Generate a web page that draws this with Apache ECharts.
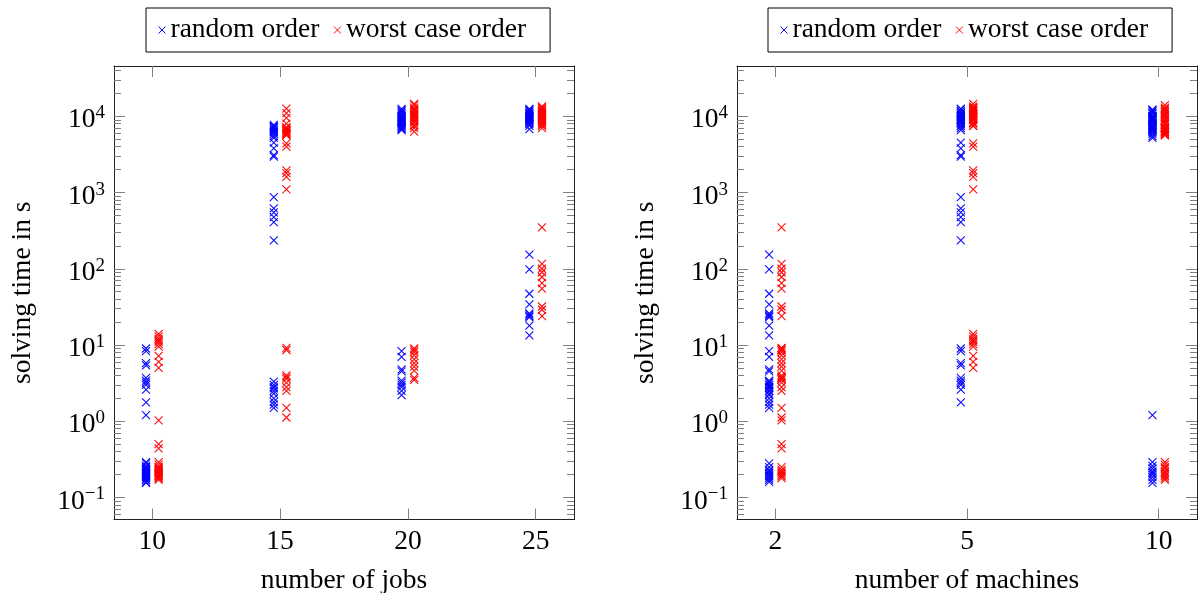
<!DOCTYPE html>
<html><head><meta charset="utf-8">
<script src="https://cdn.jsdelivr.net/npm/echarts@6.0.0/dist/echarts.min.js"></script>
<style>html,body{margin:0;padding:0;background:#fff}#c{width:1200px;height:593px}</style>
</head><body><div id="c"></div>
<script>
// ---------- categories and ticks ----------
const jobCategories = [10, 15, 20, 25];
const machineCategories = [2, 5, 10];
const machineTickLabels = ['2', '5', '10'];
const yMajorTicks = [0.1, 1, 10, 100, 1000, 10000];
const yMinorTicks = [0.06, 0.07, 0.08, 0.09,
  0.2, 0.3, 0.4, 0.5, 0.6, 0.7, 0.8, 0.9,
  2, 3, 4, 5, 6, 7, 8, 9,
  20, 30, 40, 50, 60, 70, 80, 90,
  200, 300, 400, 500, 600, 700, 800, 900,
  2000, 3000, 4000, 5000, 6000, 7000, 8000, 9000,
  20000, 30000, 40000];
const seriesNames = ['random order', 'worst case order'];

// ---------- solving times (s): random order, per (jobs, machines) ----------
const random_j10_m2  = [0.28, 0.25, 0.23, 0.22, 0.21, 0.2, 0.19, 0.18, 0.17, 0.16];
const random_j10_m5  = [9.0, 8.3, 5.8, 5.4, 3.7, 3.4, 3.2, 3.0, 2.6, 1.77];
const random_j10_m10 = [1.2, 0.29, 0.26, 0.24, 0.22, 0.21, 0.2, 0.185, 0.17, 0.155];
const random_j15_m2  = [3.3, 3.0, 2.8, 2.7, 2.5, 2.3, 2.0, 1.8, 1.65, 1.5];
const random_j15_m5  = [4500, 3800, 3100, 2950, 870, 620, 550, 475, 410, 235];
const random_j15_m10 = [7700, 7400, 7200, 7000, 6700, 6500, 6200, 5900, 5500, 5200];
const random_j20_m2  = [8.3, 7.0, 4.8, 4.5, 3.4, 3.2, 3.0, 2.8, 2.5, 2.2];
const random_j20_m5  = [12500, 11500, 10500, 9800, 9000, 8500, 8000, 7500, 7000, 6600];
const random_j20_m10 = [12000, 11000, 10000, 9500, 9200, 8700, 8200, 7700, 7200, 6800];
const random_j25_m2  = [153, 98, 47, 34, 26, 25, 24, 23, 18, 13.4];
const random_j25_m5  = [12500, 11800, 11000, 10500, 10000, 9600, 9200, 8800, 8200, 7500];
const random_j25_m10 = [12200, 11500, 10800, 10200, 9800, 9400, 9000, 8500, 7900, 6800];

// ---------- solving times (s): worst case order ----------
const worst_j10_m2  = [1.03, 0.5, 0.44, 0.25, 0.23, 0.22, 0.21, 0.2, 0.19, 0.18];
const worst_j10_m5  = [14, 13, 12, 11.5, 11, 10.3, 9.5, 7.2, 6, 5];
const worst_j10_m10 = [0.29, 0.27, 0.25, 0.24, 0.22, 0.21, 0.2, 0.19, 0.18, 0.17];
const worst_j15_m2  = [9.2, 8.6, 4.0, 3.8, 3.6, 3.2, 2.8, 2.5, 1.5, 1.12];
const worst_j15_m5  = [12600, 11000, 9500, 8000, 4400, 4000, 1950, 1800, 1600, 1100];
const worst_j15_m10 = [7200, 7000, 6800, 6600, 6400, 6200, 6000, 5900, 5700, 5600];
const worst_j20_m2  = [9.0, 8.5, 8.0, 7.3, 6.5, 5.8, 5.2, 4.6, 3.7, 3.5];
const worst_j20_m5  = [14500, 13000, 12000, 11000, 10500, 10000, 9500, 9000, 8300, 7500];
const worst_j20_m10 = [14000, 12500, 11500, 10500, 9800, 9000, 8400, 7700, 7000, 6300];
const worst_j25_m2  = [350, 116, 100, 90, 78, 65, 55, 32, 29, 24];
const worst_j25_m5  = [13500, 12800, 12000, 11300, 10700, 10000, 9500, 9000, 8200, 7500];
const worst_j25_m10 = [13000, 12200, 11500, 10800, 10200, 9600, 9000, 8400, 7800, 7000];

const randomCells = {
  10: {2: random_j10_m2, 5: random_j10_m5, 10: random_j10_m10},
  15: {2: random_j15_m2, 5: random_j15_m5, 10: random_j15_m10},
  20: {2: random_j20_m2, 5: random_j20_m5, 10: random_j20_m10},
  25: {2: random_j25_m2, 5: random_j25_m5, 10: random_j25_m10}
};
const worstCells = {
  10: {2: worst_j10_m2, 5: worst_j10_m5, 10: worst_j10_m10},
  15: {2: worst_j15_m2, 5: worst_j15_m5, 10: worst_j15_m10},
  20: {2: worst_j20_m2, 5: worst_j20_m5, 10: worst_j20_m10},
  25: {2: worst_j25_m2, 5: worst_j25_m5, 10: worst_j25_m10}
};

function byJobs(cells) {
  const out = [];
  jobCategories.forEach(j => machineCategories.forEach(m => cells[j][m].forEach(v => out.push([j, v]))));
  return out;
}
function byMachines(cells) {
  const out = [];
  machineCategories.forEach((m, mi) => jobCategories.forEach(j => cells[j][m].forEach(v => out.push([mi, v]))));
  return out;
}

// ---------- styling ----------
const FONT = 'Liberation Serif';
const FS = 27.5;
const BLUE = '#0000ff', RED = '#ff0000';
const FRAME = '#222';
const TICK = '#808080';
const Y_MIN = 0.05144, Y_MAX = 45650;
const CROSS = 'path://M0,0L10,10M10,0L0,10';
const grids = [
  {left: 114, top: 66, width: 460, height: 453.5, outerBoundsMode: 'none', containLabel: false},
  {left: 737, top: 66, width: 460, height: 453.5, outerBoundsMode: 'none', containLabel: false}
];

function xAxesFor(gi, min, max, ticks, fmt, name) {
  const base = {
    gridIndex: gi, type: 'value', min: min, max: max,
    axisLine: {show: true, onZero: false, lineStyle: {color: FRAME, width: 1}},
    splitLine: {show: false}
  };
  return [
    Object.assign({}, base, {
      position: 'bottom',
      name: name, nameLocation: 'middle', nameGap: 47,
      nameTextStyle: {fontFamily: FONT, fontSize: FS, color: '#000'},
      axisTick: {show: true, inside: true, length: 11, lineStyle: {color: TICK, width: 1}, customValues: ticks},
      axisLabel: {show: true, margin: 8, fontFamily: FONT, fontSize: FS, color: '#000', customValues: ticks, formatter: fmt}
    }),
    Object.assign({}, base, {
      position: 'top',
      axisTick: {show: true, inside: true, length: 11, lineStyle: {color: TICK, width: 1}, customValues: ticks},
      axisLabel: {show: false}
    })
  ];
}
function supText(v) {
  const e = Math.round(Math.log10(v));
  return '{b|10}{s|' + (e < 0 ? '\u2212' + (-e) : e) + '}';
}
function yAxesFor(gi, name) {
  const base = {gridIndex: gi, type: 'log', logBase: 10, min: Y_MIN, max: Y_MAX, splitLine: {show: false}};
  const major = (pos, withLabel) => Object.assign({}, base, {
    position: pos,
    axisLine: {show: true, onZero: false, lineStyle: {color: FRAME, width: 1}},
    axisTick: {show: true, inside: true, length: 11, lineStyle: {color: TICK, width: 1}, customValues: yMajorTicks},
    axisLabel: withLabel ? {
      show: true, margin: 9, customValues: yMajorTicks, formatter: supText, color: '#000',
      rich: {
        b: {fontFamily: FONT, fontSize: FS, color: '#000', padding: [8, 0, 0, 0]},
        s: {fontFamily: FONT, fontSize: 19, color: '#000', padding: [0, 0, 6, 0]}
      }
    } : {show: false},
    name: withLabel ? name : '',
    nameLocation: 'middle', nameGap: 77, nameRotate: 90,
    nameTextStyle: {fontFamily: FONT, fontSize: FS, color: '#000'}
  });
  const minor = (pos) => Object.assign({}, base, {
    position: pos,
    axisLine: {show: false, onZero: false},
    axisTick: {show: true, inside: true, length: 7, lineStyle: {color: TICK, width: 1}, customValues: yMinorTicks},
    axisLabel: {show: false}
  });
  return [major('left', true), minor('left'), major('right', false), minor('right')];
}

const xAxis = [].concat(
  xAxesFor(0, 8.5, 26.5, jobCategories, v => String(v), 'number of jobs'),
  xAxesFor(1, -0.2, 2.2, [0, 1, 2], v => machineTickLabels[Math.round(v)], 'number of machines')
);
const yAxis = [].concat(yAxesFor(0, 'solving time in s'), yAxesFor(1, 'solving time in s'));

function scatter(name, color, data, xi, yi, dx) {
  return {
    type: 'scatter', name: name, xAxisIndex: xi, yAxisIndex: yi, data: data,
    symbol: CROSS, symbolSize: 8, symbolOffset: [dx, 0],
    itemStyle: {color: color, borderColor: color, borderWidth: 1.1, opacity: 0.95},
    emphasis: {disabled: true}, silent: true
  };
}

function legendFor(left) {
  return {
    left: left, top: 8, orient: 'horizontal', selectedMode: false,
    data: seriesNames,
    icon: CROSS, itemWidth: 7, itemHeight: 7, itemGap: 14,
    itemStyle: {borderWidth: 1},
    borderColor: '#000', borderWidth: 1, borderRadius: 0,
    padding: [8, 24, 8, 12],
    textStyle: {fontFamily: FONT, fontSize: FS, color: '#000'}
  };
}

const chart = echarts.init(document.getElementById('c'), null, {renderer: 'canvas'});
chart.setOption({
  animation: false,
  backgroundColor: '#fff',
  grid: grids,
  legend: [legendFor(146), legendFor(768)],
  xAxis: xAxis,
  yAxis: yAxis,
  series: [
    scatter(seriesNames[0], BLUE, byJobs(randomCells), 0, 0, -6.3),
    scatter(seriesNames[1], RED, byJobs(worstCells), 0, 0, 6.3),
    scatter(seriesNames[0], BLUE, byMachines(randomCells), 2, 4, -6.2),
    scatter(seriesNames[1], RED, byMachines(worstCells), 2, 4, 6.2)
  ]
});
</script></body></html>
